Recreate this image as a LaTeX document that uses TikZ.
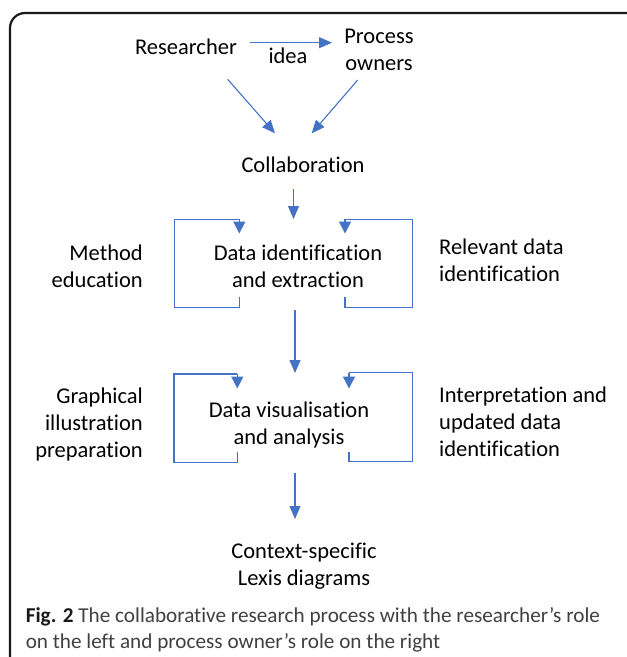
\documentclass[tikz,border=0pt]{standalone}
\usepackage{fontspec}
\setmainfont{Carlito}[Ligatures=NoCommon]
\usetikzlibrary{arrows.meta}
\definecolor{lineblue}{HTML}{4472C4}
\definecolor{framegray}{HTML}{1A1A1A}
\definecolor{capgray}{HTML}{404040}
\tikzset{
  lbl/.style={inner sep=0pt, font=\fontsize{22.5}{26.7}\selectfont, text=black},
  arr/.style={draw=lineblue, line width=1.1pt, -{Triangle[length=13pt,width=11pt]}},
  loopline/.style={draw=lineblue, line width=1.4pt},
  looparr/.style={draw=lineblue, line width=1.4pt, -{Triangle[length=12pt,width=12pt]}},
}
\begin{document}
\begin{tikzpicture}[x=1pt,y=-1pt]
\useasboundingbox (0,0) rectangle (627,657);
\clip (0,0) rectangle (627,657);
% frame
\draw[framegray, line width=2.2pt, rounded corners=15pt] (10,13) rectangle (641,700);

% top nodes
\node[lbl, anchor=base] (res) at (186,54) {Researcher};
\node[lbl, anchor=base] (idea) at (288,63) {idea};
\node[lbl, anchor=base, align=center] (po) at (379,70) {Process\\owners};
\node[lbl, anchor=base] (col) at (303,172) {Collaboration};

% idea arrow
\coordinate (ideaS) at (250,42.7);
\coordinate (ideaE) at (332,42.7);
\draw[arr] (ideaS) -- (ideaE);

% diagonals
\coordinate (d1s) at (227.7,79.3);
\coordinate (d1e) at (275,133.3);
\coordinate (d2s) at (357.7,80);
\coordinate (d2e) at (311.7,133.3);
\draw[arr] (d1s) -- (d1e);
\draw[arr] (d2s) -- (d2e);

% middle block 1
\node[lbl, anchor=base, align=center] (die) at (298,287) {Data identification\\and extraction};
\node[lbl, anchor=base east, align=right] (me) at (143,287) {Method\\education};
\node[lbl, anchor=base west, align=left] (rdi) at (439,281.5) {Relevant data\\identification};

\coordinate (a1s) at (293.5,189);
\coordinate (a1e) at (293.5,219);
\draw[arr] (a1s) -- (a1e);

% left loop 1
\coordinate (l1a) at (239.3,296.5);
\coordinate (l1b) at (239.3,219.3);
\coordinate (l1c) at (239.3,233.5);
\draw[loopline] (l1a) -- (239.3,307.3) -- (174.7,307.3) -- (174.7,219.3) -- (l1b);
\draw[looparr] (l1b) -- (l1c);
% right loop 1
\coordinate (r1a) at (345,296.5);
\coordinate (r1b) at (345,219.3);
\coordinate (r1c) at (345,233.5);
\draw[loopline] (r1a) -- (345,307.3) -- (412.3,307.3) -- (412.3,219.3) -- (r1b);
\draw[looparr] (r1b) -- (r1c);

% arrow 2
\coordinate (a2s) at (295,310);
\coordinate (a2e) at (295,373);
\draw[arr] (a2s) -- (a2e);

% middle block 2
\node[lbl, anchor=base, align=center] (dva) at (289,444) {Data visualisation\\and analysis};
\node[lbl, anchor=base east, align=right] (gip) at (143,457) {Graphical\\illustration\\preparation};
\node[lbl, anchor=base west, align=left] (iud) at (439,456) {Interpretation and\\updated data\\identification};

% left loop 2
\coordinate (l2a) at (237.3,451.7);
\coordinate (l2b) at (237.3,374);
\coordinate (l2c) at (237.3,388.5);
\draw[loopline] (l2a) -- (237.3,462.3) -- (174,462.3) -- (174,374) -- (l2b);
\draw[looparr] (l2b) -- (l2c);
% right loop 2
\coordinate (r2a) at (349,452);
\coordinate (r2b) at (349,372.7);
\coordinate (r2c) at (349,388.5);
\draw[loopline] (r2a) -- (349,461.3) -- (412.3,461.3) -- (412.3,372.7) -- (r2b);
\draw[looparr] (r2b) -- (r2c);

% arrow 3
\coordinate (a3s) at (295,473);
\coordinate (a3e) at (295,519);
\draw[arr] (a3s) -- (a3e);

\node[lbl, anchor=base, align=center] (lex) at (304,585) {Context-specific\\Lexis diagrams};

% caption
\node[inner sep=0pt, anchor=base west, align=left, text=capgray,
  font=\fontsize{21.2}{26.7}\selectfont] (cap) at (25.6,648.7)
  {{\color{framegray}\bfseries Fig. 2} The collaborative research process with the researcher’s role\\on the left and process owner’s role on the right};
\end{tikzpicture}
\end{document}
